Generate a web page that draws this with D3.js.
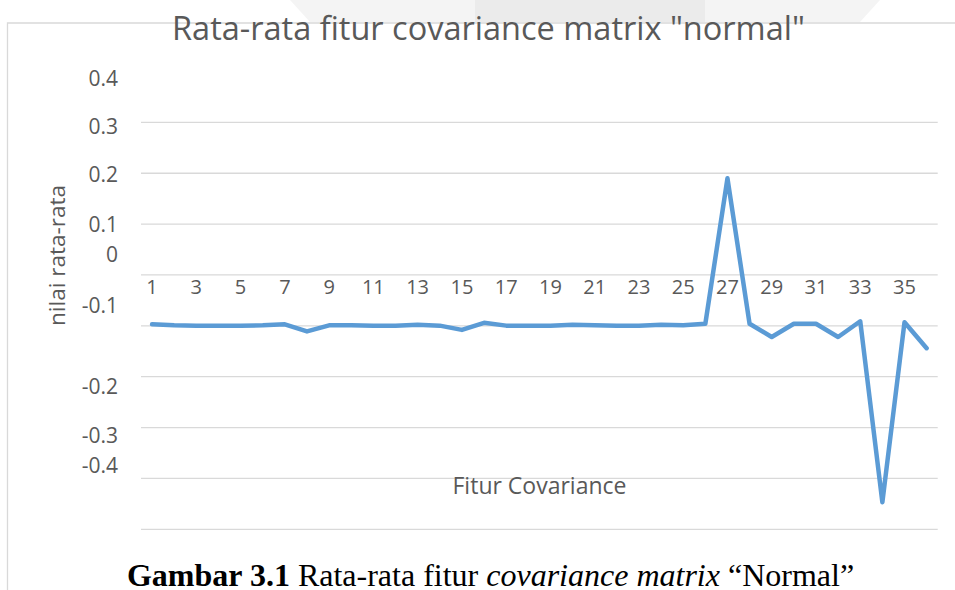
<!DOCTYPE html>
<html>
<head>
<meta charset="utf-8">
<script src="https://cdn.jsdelivr.net/npm/d3@7"></script>
<style>
  body { margin: 0; background: #fff; }
  svg { display: block; }
</style>
</head>
<body>
<div id="chart"></div>
<script>
// feature index 1..36
const fitur = d3.range(1, 37);
// average value of each covariance feature
const nilai = [
  -0.097, -0.099, -0.0996, -0.100, -0.100, -0.099, -0.097, -0.111, -0.099, -0.099,
  -0.100, -0.100, -0.098, -0.0996, -0.108, -0.094, -0.0996, -0.0996, -0.0996, -0.098,
  -0.099, -0.0996, -0.0996, -0.098, -0.099, -0.096, 0.19, -0.096, -0.122, -0.096,
  -0.096, -0.122, -0.091, -0.447, -0.093, -0.144
];
const gridTicks = [0.3, 0.2, 0.1, 0, -0.1, -0.2, -0.3, -0.4, -0.5];
const yLabels = [0.4, 0.3, 0.2, 0.1, 0, -0.1, -0.2, -0.3, -0.4];
const xLabels = fitur.filter((d) => d % 2 === 1);

// the labels in the source sit off their gridlines, nudge them the same way
const labelNudge = [7, 4, 1, 1, -20, -20, 10, 8, -13];

const W = 955, H = 590;
const svg = d3.select('#chart').append('svg').attr('width', W).attr('height', H);
const grey = '#595959';

// faint shapes behind the title, above the chart box
svg.append('path')
  .attr('d', 'M290,0 L880,0 L860,22 L310,22 Z')
  .attr('fill', '#f4f4f4');
svg.append('rect')
  .attr('x', 475).attr('y', 0).attr('width', 230).attr('height', 22)
  .attr('fill', '#ebebeb');

// chart box edges
svg.append('path')
  .attr('d', 'M7.5,590 L7.5,23 L955,23')
  .attr('fill', 'none')
  .attr('stroke', '#d9d9d9')
  .attr('stroke-width', 1.3);

const x = d3.scaleBand().domain(fitur).range([141, 937.7]);
const y = d3.scaleLinear().domain([-0.5, 0.4]).range([529.3, 71.5]);
const cx = (d) => x(d) + x.bandwidth() / 2;

// gridlines
svg.append('g')
  .selectAll('line')
  .data(gridTicks)
  .join('line')
  .attr('x1', 141)
  .attr('x2', 937.7)
  .attr('y1', (d) => y(d))
  .attr('y2', (d) => y(d))
  .attr('stroke', '#d9d9d9')
  .attr('stroke-width', 1.3);

// y tick labels
svg.append('g')
  .selectAll('text')
  .data(yLabels)
  .join('text')
  .attr('x', 118)
  .attr('y', (d, i) => y(d) + labelNudge[i])
  .attr('dy', '0.35em')
  .attr('text-anchor', 'end')
  .attr('font-family', 'Open Sans')
  .attr('font-size', 21)
  .attr('fill', grey)
  .text((d) => d);

// category labels along the zero line
svg.append('g')
  .selectAll('text')
  .data(xLabels)
  .join('text')
  .attr('x', cx)
  .attr('y', y(0) + 12.5)
  .attr('dy', '0.35em')
  .attr('text-anchor', 'middle')
  .attr('font-family', 'Open Sans')
  .attr('font-size', 20)
  .attr('fill', grey)
  .text((d) => d);

// the series
const line = d3.line()
  .x((d, i) => cx(fitur[i]))
  .y((d) => y(d));

svg.append('path')
  .datum(nilai)
  .attr('d', line)
  .attr('fill', 'none')
  .attr('stroke', '#5b9bd5')
  .attr('stroke-width', 4.5)
  .attr('stroke-linejoin', 'round')
  .attr('stroke-linecap', 'round');

// titles
svg.append('text')
  .attr('x', 488.5)
  .attr('y', 39.5)
  .attr('text-anchor', 'middle')
  .attr('font-family', 'Open Sans')
  .attr('font-size', 32.5)
  .attr('fill', grey)
  .text('Rata-rata fitur covariance matrix "normal"');

svg.append('text')
  .attr('transform', 'translate(65,255.5) rotate(-90)')
  .attr('text-anchor', 'middle')
  .attr('font-family', 'Open Sans')
  .attr('font-size', 22.5)
  .attr('fill', grey)
  .text('nilai rata-rata');

svg.append('text')
  .attr('x', 539.5)
  .attr('y', 494)
  .attr('text-anchor', 'middle')
  .attr('font-family', 'Open Sans')
  .attr('font-size', 23)
  .attr('fill', grey)
  .text('Fitur Covariance');

// figure caption under the chart
const cap = svg.append('text')
  .attr('x', 490.5)
  .attr('y', 585.5)
  .attr('text-anchor', 'middle')
  .attr('font-family', 'Liberation Serif')
  .attr('font-size', 32)
  .attr('fill', '#000');
cap.append('tspan').attr('font-weight', 'bold').text('Gambar 3.1');
cap.append('tspan').text(' Rata-rata fitur ');
cap.append('tspan').attr('font-style', 'italic').text('covariance matrix');
cap.append('tspan').text(' \u201cNormal\u201d');
</script>
</body>
</html>
